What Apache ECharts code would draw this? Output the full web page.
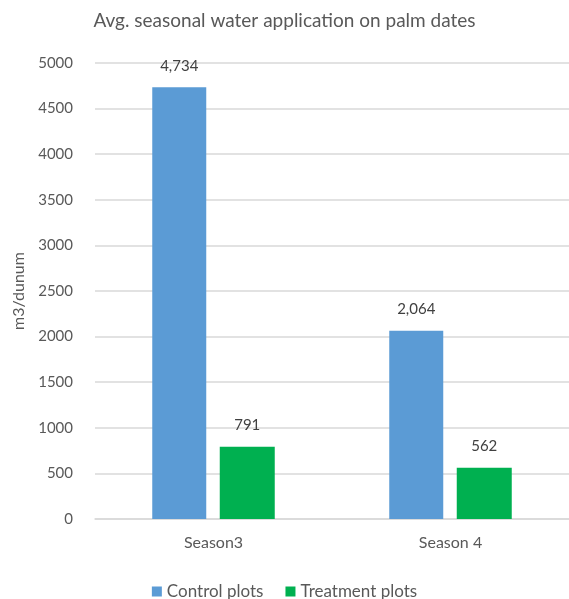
<!DOCTYPE html>
<html>
<head>
<meta charset="utf-8">
<script src="https://cdn.jsdelivr.net/npm/echarts@6/dist/echarts.min.js"></script>
<style>
  html, body { margin: 0; padding: 0; background: #fff; }
  #chart { width: 569px; height: 599px; }
</style>
</head>
<body>
<div id="chart"></div>
<script>
// Seasonal water application per dunum, by plot type
const seasons = ['Season3', 'Season 4'];
const controlPlots = [4734, 2064];
const treatmentPlots = [791, 562];
const yTicks = { min: 0, max: 5000, step: 500 };

const FONT = 'Lato';
const TEXT = '#595959';

const chart = echarts.init(document.getElementById('chart'), null, { renderer: 'canvas' });

const labelStyle = {
  show: true,
  position: 'top',
  distance: 14,
  color: '#404040',
  fontFamily: FONT,
  fontSize: 15,
  formatter: p => p.value.toLocaleString('en-US')
};

chart.setOption({
  animation: false,
  textStyle: { fontFamily: FONT },
  title: {
    text: 'Avg. seasonal water application on palm dates',
    left: 'center',
    top: 6,
    textStyle: { color: TEXT, fontFamily: FONT, fontSize: 19, fontWeight: 'normal' }
  },
  legend: {
    top: 578,
    left: 'center',
    itemWidth: 10,
    itemHeight: 10,
    itemGap: 22,
    icon: 'rect',
    textStyle: { color: TEXT, fontFamily: FONT, fontSize: 17 },
    data: ['Control plots', 'Treatment plots']
  },
  grid: { left: 95, top: 63, width: 480, height: 456 },
  xAxis: {
    type: 'category',
    data: seasons,
    axisLine: { lineStyle: { color: '#d9d9d9', width: 1.5 } },
    axisTick: { show: false },
    axisLabel: { color: TEXT, fontFamily: FONT, fontSize: 16, margin: 16 }
  },
  yAxis: {
    type: 'value',
    min: yTicks.min,
    max: yTicks.max,
    interval: yTicks.step,
    name: 'm3/dunum',
    nameLocation: 'middle',
    nameGap: 60,
    nameRotate: 90,
    nameTextStyle: { color: TEXT, fontFamily: FONT, fontSize: 16 },
    axisLine: { show: false },
    axisTick: { show: false },
    axisLabel: { color: TEXT, fontFamily: FONT, fontSize: 15, margin: 22, formatter: v => String(v) },
    splitLine: { lineStyle: { color: '#d9d9d9', width: 1.5 } }
  },
  series: [
    {
      name: 'Control plots',
      type: 'bar',
      data: controlPlots,
      barWidth: 54,
      barGap: '25%',
      itemStyle: { color: '#5b9bd5' },
      label: labelStyle
    },
    {
      name: 'Treatment plots',
      type: 'bar',
      data: treatmentPlots,
      barWidth: 55,
      itemStyle: { color: '#00b050' },
      label: labelStyle
    }
  ]
});
</script>
</body>
</html>
